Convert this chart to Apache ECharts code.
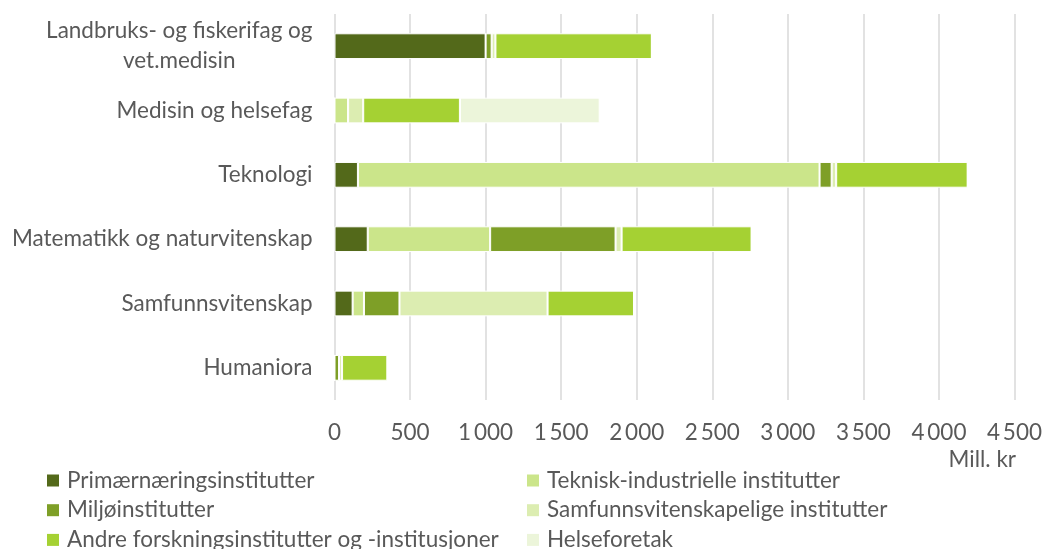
<!DOCTYPE html>
<html>
<head>
<meta charset="utf-8">
<script src="https://cdn.jsdelivr.net/npm/echarts@6/dist/echarts.min.js"></script>
<style>
  html, body { margin: 0; padding: 0; background: #fff; }
  #chart { width: 1045px; height: 549px; }
</style>
</head>
<body>
<div id="chart"></div>
<script>
// fagområder, ovenfra og ned
const categories = [
  'Landbruks- og fiskerifag og vet.medisin',
  'Medisin og helsefag',
  'Teknologi',
  'Matematikk og naturvitenskap',
  'Samfunnsvitenskap',
  'Humaniora'
];

// Mill. kr per type institusjon
const primaer = [1000, 0, 155, 220, 120, 0];
const teknisk = [0, 90, 3055, 810, 75, 0];
const miljo = [40, 0, 80, 830, 235, 30];
const samf = [25, 100, 30, 40, 980, 20];
const andre = [1035, 640, 870, 860, 572, 300];
const helse = [0, 925, 0, 0, 0, 0];

const seriesNames = [
  'Primærnæringsinstitutter',
  'Teknisk-industrielle institutter',
  'Miljøinstitutter',
  'Samfunnsvitenskapelige institutter',
  'Andre forskningsinstitutter og -institusjoner',
  'Helseforetak'
];
const seriesData = [primaer, teknisk, miljo, samf, andre, helse];
const colors = ['#53691a', '#cbe58a', '#7e9f27', '#dcedb1', '#a5d133', '#ecf5da'];

const FONT = 'Lato, "Liberation Sans", sans-serif';
const FS = 22.5;
const GREY = '#595959';

const chart = echarts.init(document.getElementById('chart'));

// tusenskille med smalt mellomrom
const fmt = (v) => String(v).replace(/\B(?=(\d{3})+(?!\d))/g, '\u2009');

// første kategori brytes over to linjer, andre linje sentrert
const wrapLabel = (v) => {
  if (v.indexOf('vet.medisin') >= 0) {
    return '{c|Landbruks- og fiskerifag og}\n{c|vet.medisin}';
  }
  return v;
};

const legendBase = {
  orient: 'vertical',
  top: 468.5,
  height: 120,
  padding: 0,
  itemWidth: 12,
  itemHeight: 12,
  itemGap: 5.7,
  icon: 'rect',
  itemStyle: { borderWidth: 0 },
  textStyle: { fontFamily: FONT, fontSize: FS, color: GREY, lineHeight: 24, padding: [0, 0, 0, 3] }
};

chart.setOption({
  animation: false,
  color: colors,
  grid: { left: 334.5, right: 29.5, top: 14, bottom: 149 },
  xAxis: {
    type: 'value',
    min: 0,
    max: 4500,
    interval: 500,
    axisLine: { show: false },
    axisTick: { show: false },
    splitLine: { lineStyle: { color: '#d9d9d9', width: 1.5 } },
    axisLabel: { formatter: fmt, fontFamily: FONT, fontSize: FS, color: GREY, margin: 21 }
  },
  yAxis: {
    type: 'category',
    data: categories,
    inverse: true,
    axisLine: { show: false },
    axisTick: { show: false },
    axisLabel: {
      formatter: wrapLabel,
      fontFamily: FONT,
      fontSize: FS,
      color: GREY,
      margin: 22,
      lineHeight: 30,
      rich: { c: { align: 'center', fontFamily: FONT, fontSize: FS, color: GREY, lineHeight: 30 } }
    }
  },
  legend: [
    Object.assign({}, legendBase, { left: 47, data: [seriesNames[0], seriesNames[2], seriesNames[4]] }),
    Object.assign({}, legendBase, { left: 527, data: [seriesNames[1], seriesNames[3], seriesNames[5]] })
  ],
  graphic: [{
    type: 'text',
    x: 1016,
    y: 460,
    style: { text: 'Mill. kr', align: 'right', verticalAlign: 'middle', font: FS + 'px ' + FONT, fill: GREY }
  }],
  series: seriesNames.map((name, i) => ({
    name: name,
    type: 'bar',
    stack: 'total',
    barWidth: '40%',
    data: seriesData[i],
    itemStyle: { borderColor: '#fff', borderWidth: 1 }
  }))
});
</script>
</body>
</html>
